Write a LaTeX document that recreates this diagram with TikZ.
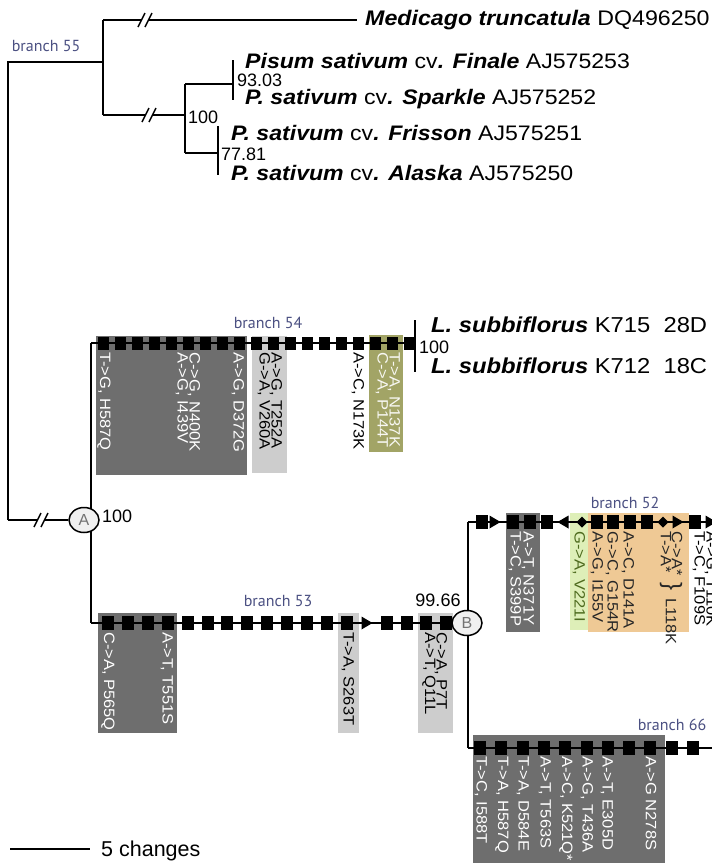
\documentclass[tikz,border=0pt]{standalone}
\usepackage{fontspec}
\setmainfont{Liberation Sans}
\newfontfamily\tx[FakeStretch=1.1]{Liberation Sans}
\newfontfamily\brfont{PT Sans}
\usetikzlibrary{shapes.geometric}
\definecolor{brc}{HTML}{4B5082}
\definecolor{dkbox}{HTML}{6E6E6E}
\definecolor{ltbox}{HTML}{CDCDCD}
\definecolor{olbox}{HTML}{A2A466}
\definecolor{grbox}{HTML}{DEEFB8}
\definecolor{orbox}{HTML}{EFC995}
\definecolor{grtext}{HTML}{4E6B1E}
\tikzset{
  edge/.style={line width=2.4pt},
  mut/.style={rotate=-90, anchor=west, inner sep=0pt, font=\tx\fontsize{15}{15}\selectfont},
  mutw/.style={mut, text=white},
  taxon/.style={anchor=west, inner sep=0pt, font=\tx\fontsize{21}{21}\selectfont},
  brl/.style={inner sep=0pt, text=brc, font=\brfont\fontsize{16}{16}\selectfont},
  supp/.style={anchor=west, inner sep=0pt, font=\fontsize{18}{18}\selectfont},
  hub/.style={ellipse, draw, line width=1.5pt, fill=black!6, minimum width=30pt, minimum height=25pt, inner sep=0pt, text=black!55, font=\fontsize{16}{16}\selectfont},
}
\newcommand\sqat[2]{\fill (#1-5.5,#2-6.5) rectangle (#1+5.5,#2+6.5);}
\newcommand\sqbig[2]{\fill (#1-6,#2-7) rectangle (#1+6,#2+7);}
\newcommand\triR[2]{\fill (#1-5.5,#2-6.5) -- (#1+5.5,#2) -- (#1-5.5,#2+6.5) -- cycle;}
\newcommand\triL[2]{\fill (#1+5.5,#2-6.5) -- (#1-5.5,#2) -- (#1+5.5,#2+6.5) -- cycle;}
\newcommand\dia[2]{\fill (#1-5.5,#2) -- (#1,#2-5.5) -- (#1+5.5,#2) -- (#1,#2+5.5) -- cycle;}
\newcommand\slashmark[2]{\fill[white] (#1-4.5,#2-2.5) rectangle (#1+2.5,#2+2.5);
  \draw[line width=1.4pt] (#1-8,#2+7) -- (#1-1,#2-7) (#1-1,#2+7) -- (#1+6,#2-7);}
\begin{document}
\begin{tikzpicture}[x=1pt,y=-1pt]
\useasboundingbox[fill=white] (0,0) rectangle (712,865);
% ---------- boxes
\fill[dkbox] (96,336) rectangle (247,475);
\fill[ltbox] (252,336) rectangle (287,473);
\fill[olbox] (369,335) rectangle (403,452);
\fill[dkbox] (98,613) rectangle (177,733);
\fill[ltbox] (338,613) rectangle (359,733);
\fill[ltbox] (418,613) rectangle (453,733);
\fill[dkbox] (506,513) rectangle (540,632);
\fill[grbox] (570,513) rectangle (588,630);
\fill[orbox] (588,513) rectangle (689,632);
\fill[dkbox] (473,735) rectangle (665,863);

% ---------- top clade
\coordinate (rt) at (8,62);
\coordinate (rb) at (8,520);
\coordinate (n1) at (103,62);
\coordinate (n1t) at (103,20);
\coordinate (n1b) at (103,115);
\coordinate (n2) at (185,115);
\coordinate (n2t) at (185,84);
\coordinate (n2b) at (185,153);
\coordinate (n3) at (233,84);
\coordinate (n3t) at (233,60);
\coordinate (n3b) at (233,100);
\coordinate (n4) at (218,153);
\coordinate (n4t) at (218,126);
\coordinate (n4b) at (218,175);
\coordinate (medend) at (357,20);

\node[taxon, font=\tx\fontsize{21.1}{21.1}\selectfont] (med) at (365,20) {\textbf{\textit{Medicago truncatula}} DQ496250};
\node[taxon] (pfin) at (245,61) {\textbf{\textit{Pisum sativum}} cv\textbf{\textit{. Finale}} AJ575253};
\node[taxon] (pspa) at (245,99) {\textbf{\textit{P. sativum}} cv\textbf{\textit{. Sparkle}} AJ575252};
\node[taxon] (pfri) at (231,133) {\textbf{\textit{P. sativum}} cv\textbf{\textit{. Frisson}} AJ575251};
\node[taxon] (pala) at (231,173) {\textbf{\textit{P. sativum}} cv\textbf{\textit{. Alaska}} AJ575250};

\draw[edge] (rb) -- (rt) -- (n1);
\draw[edge] (n1t) -- (n1b);
\draw[edge] (n1t) -- (medend);
\draw[edge] (n1b) -- (n2);
\draw[edge] (n2t) -- (n2b);
\draw[edge] (n2t) -- (n3);
\draw[edge] (n3t) -- (n3b);
\draw[edge] (n2b) -- (n4);
\draw[edge] (n4t) -- (n4b);
\slashmark{146}{20}
\slashmark{150}{115}

\node[brl] (lb55) at (46,46) {branch 55};
\node[supp] (s100a) at (188,117) {100};
\node[supp] (s9303) at (237,80) {93.03};
\node[supp] (s7781) at (221,154) {77.81};

% ---------- middle
\coordinate (a54) at (91,343);
\coordinate (a53) at (91,623);
\coordinate (l54) at (415,343);
\coordinate (l54t) at (415,320);
\coordinate (l54b) at (415,372);
\coordinate (b52) at (468,522);
\coordinate (b66) at (468,748);
\coordinate (e52) at (712,522);
\coordinate (e66) at (712,748);

\draw[edge] (a54) -- (a53);
\draw[edge] (a54) -- (l54);
\draw[edge] (l54t) -- (l54b);
\draw[edge] (b52) -- (b66);
\draw[edge] (b52) -- (e52);
\draw[edge] (b66) -- (e66);

\node[hub] (A) at (84,520) {A};
\node[hub] (B) at (467,623) {B};
\draw[edge] (rb) -- (A);
\draw[edge] (a53) -- (B);
\slashmark{42}{520}

\node[taxon, font=\tx\fontsize{21.6}{21.6}\selectfont] (lk715) at (431,325) {\textbf{\textit{L. subbiflorus}} K715\ \ 28D};
\node[taxon, font=\tx\fontsize{21.6}{21.6}\selectfont] (lk712) at (431,366) {\textbf{\textit{L. subbiflorus}} K712\ \ 18C};
\node[supp] (s100b) at (419,347) {100};
\node[supp] (s100c) at (102,516) {100};
\node[supp, anchor=center] (s9966) at (438,600) {99.66};

% ---------- markers
\foreach \i in {0,...,18}{\sqat{103+17*\i}{343}}
\foreach \i in {0,...,12,14,15,16,17}{\sqbig{108+19.9*\i}{623}}
\triR{367}{623}
\foreach \x in {482,513,530,547,597,613,630,647,695}{\sqbig{\x}{522}}
\triR{495}{522}
\triL{563}{522}
\dia{582}{522}
\dia{663}{522}
\triR{678}{522}
\triR{711}{522}
\foreach \i in {0,...,10}{\sqbig{480+21.3*\i}{748}}

% ---------- labels
\node[brl] (lb54) at (268,323) {branch 54};
\node[brl] (lb53) at (278,601) {branch 53};
\node[brl] (lb52) at (625,503) {branch 52};
\node[brl] (lb66) at (672,725) {branch 66};

% ---------- mutations, branch 54
\node[mutw] (m1) at (104,352) {T->G, H587Q};
\node[mutw] (m2) at (194,352) {C->G, N400K};
\node[mutw] (m3) at (182,352) {A->G, I439V};
\node[mutw] (m4) at (238,352) {A->G, D372G};
\node[mut] (m5) at (276,352) {A->G, T252A};
\node[mut] (m6) at (264,352) {G->A, V260A};
\node[mut] (m7) at (358,352) {A->C, N173K};
\node[mut, text=white!92!olbox] (m8) at (394,352) {T->A, N137K};
\node[mut, text=white!92!olbox] (m9) at (382,352) {C->A, P144T};

% ---------- mutations, branch 53
\node[mutw] (m10) at (108,632) {C->A, P565Q};
\node[mutw] (m11) at (167,632) {A->T, T551S};
\node[mut] (m12) at (348,632) {T->A, S263T};
\node[mut] (m13) at (441,632) {C->A, P7T};
\node[mut] (m14) at (429,632) {A->T, Q11L};

% ---------- mutations, branch 52
\node[mutw] (m15) at (528,531) {A->T, N371Y};
\node[mutw] (m16) at (515,531) {T->C, S399P};
\node[mut, text=grtext] (m17) at (579,531) {G->A, V221I};
\node[mut, text=black!85] (m18) at (628,531) {A->C, D141A};
\node[mut, text=black!85] (m19) at (612,531) {G->C, G154R};
\node[mut, text=black!85] (m20) at (597,531) {A->G, I155V};
\node[mut, text=black!85] (m21) at (677,531) {C->A*};
\node[mut, text=black!85] (m22) at (666,531) {T->A*};
\node[rotate=-90, inner sep=0pt, text=black!85, font=\fontsize{24}{24}\selectfont] (brace) at (671,586) {\}};
\node[mut, text=black!85] (m23) at (671,598) {L118K};
\node[mut] (m24) at (699,531) {T->C, F109S};
\node[mut] (m25) at (711,531) {A->G, T110K};

% ---------- mutations, branch 66
\node[mutw] (m26) at (481,756) {T->C, I588T};
\node[mutw] (m27) at (502,756) {T->A, H587Q};
\node[mutw] (m28) at (523,756) {T->A, D584E};
\node[mutw] (m29) at (545,756) {A->T, T563S};
\node[mutw] (m30) at (566,756) {A->C, K521Q*};
\node[mutw] (m31) at (587,756) {A->G, T436A};
\node[mutw] (m32) at (607,756) {A->T, E305D};
\node[mutw] (m33) at (651,756) {A->G N278S};

% ---------- scale
\coordinate (sb0) at (10,849);
\coordinate (sb1) at (90,849);
\draw[line width=2.2pt] (sb0) -- (sb1);
\node[anchor=west, inner sep=0pt, font=\fontsize{21.5}{21.5}\selectfont] (scl) at (101,851) {5 changes};
\end{tikzpicture}
\end{document}
